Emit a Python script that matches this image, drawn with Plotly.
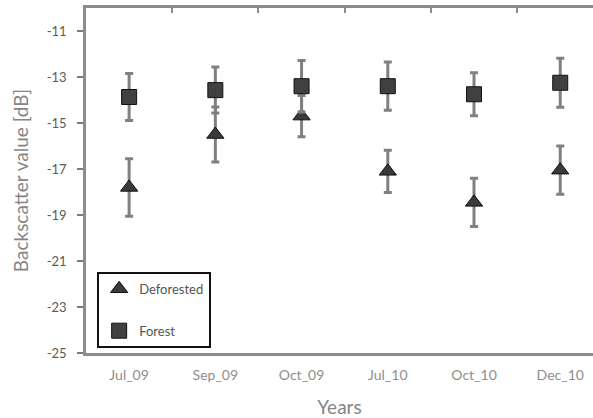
import plotly.graph_objects as go

categories = ["Jul_09", "Sep_09", "Oct_09", "Jul_10", "Oct_10", "Dec_10"]
deforested = [-17.8, -15.5, -14.7, -17.1, -18.45, -17.05]
deforested_err = [1.25, 1.2, 0.9, 0.92, 1.05, 1.05]
forest = [-13.87, -13.57, -13.4, -13.4, -13.75, -13.25]
forest_err = [1.02, 1.0, 1.12, 1.05, 0.93, 1.07]
yticks = [-11, -13, -15, -17, -19, -21, -23, -25]

FONT = "Lato"
fig = go.Figure()
fig.add_trace(go.Scatter(
    x=categories, y=deforested, mode="markers", name="Deforested",
    legendgroup="a",
    marker=dict(symbol="triangle-up", size=15, color="#3a3a3a",
                line=dict(color="#111111", width=1)),
    error_y=dict(type="data", array=deforested_err, color="#808080",
                 thickness=3, width=4),
))
fig.add_trace(go.Scatter(
    x=categories, y=forest, mode="markers", name="Forest",
    legendgroup="b",
    marker=dict(symbol="square", size=15, color="#404040",
                line=dict(color="#111111", width=1)),
    error_y=dict(type="data", array=forest_err, color="#808080",
                 thickness=3, width=4),
))
# invisible helper trace carrying the top axis ticks
fig.add_trace(go.Scatter(
    x=categories, y=forest, xaxis="x2", mode="markers",
    marker=dict(opacity=0), showlegend=False, hoverinfo="skip",
))

fig.update_layout(
    width=593, height=418,
    margin=dict(l=86, r=0, t=8, b=65),
    plot_bgcolor="white", paper_bgcolor="white",
    font=dict(family=FONT, color="#666666"),
    xaxis=dict(
        type="category", categoryorder="array", categoryarray=categories,
        range=[-0.5, 5.38], showline=True, linecolor="#8c8c8c", linewidth=2.5,
        ticks="", showgrid=False, zeroline=False, automargin=False,
        ticklabelstandoff=7,
        tickfont=dict(size=14, color="#8e8e8e"),
        title=dict(text="Years", font=dict(size=19, color="#858585"), standoff=22),
    ),
    xaxis2=dict(
        type="category", categoryorder="array", categoryarray=categories,
        overlaying="x", side="top", range=[-0.5, 5.38], automargin=False,
        showline=True, linecolor="#8c8c8c", linewidth=2.5,
        ticks="inside", tickson="boundaries", ticklen=5, tickcolor="#8c8c8c",
        tickwidth=1.5, showticklabels=False, showgrid=False, zeroline=False,
    ),
    yaxis=dict(
        range=[-25, -10], tickvals=yticks, ticktext=[str(v) for v in yticks],
        showline=True, linecolor="#8c8c8c", linewidth=2.5, automargin=False,
        ticks="outside", ticklen=6, tickcolor="#7a7a7a", tickwidth=2,
        ticklabelstandoff=8,
        showgrid=False, zeroline=False,
        tickfont=dict(size=13, color="#5a5a5a"),
        title=dict(text="Backscatter value [dB]", font=dict(size=19, color="#858585"), standoff=14),
    ),
    legend=dict(
        x=0.022, y=0.015, xanchor="left", yanchor="bottom",
        bordercolor="#111111", borderwidth=2, bgcolor="white",
        font=dict(size=13, color="#555555"),
        tracegroupgap=22, itemwidth=30,
    ),
)

fig.write_html("out.html", config={"displayModeBar": False},
               post_script="document.body.style.margin='0';")
